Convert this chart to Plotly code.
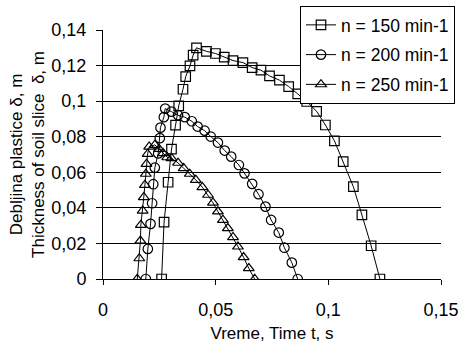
import plotly.graph_objects as go

# n = 150 min-1 (squares)
t150 = [0.0260, 0.0271, 0.0289, 0.0304, 0.0322, 0.0336, 0.0355, 0.0367, 0.0386, 0.0400,
        0.0415, 0.0459, 0.0499, 0.0538, 0.0577, 0.0621, 0.0662, 0.0701, 0.0739, 0.0783,
        0.0824, 0.0864, 0.0904, 0.0948, 0.0987, 0.1027, 0.1066, 0.1111, 0.1149, 0.1190, 0.1229]
d150 = [0.0, 0.032, 0.0544, 0.073, 0.0865, 0.0973, 0.1067, 0.1138, 0.1198, 0.1259,
        0.1300, 0.128, 0.1268, 0.1247, 0.1228, 0.1217, 0.1189, 0.1174, 0.1142, 0.1118,
        0.1082, 0.1041, 0.0998, 0.0943, 0.0866, 0.0777, 0.066, 0.0519, 0.036, 0.0187, 0.0]

# n = 200 min-1 (circles)
t200 = [0.0190, 0.0199, 0.0211, 0.0218, 0.0223, 0.0230, 0.0245, 0.0252, 0.0255, 0.0270,
        0.0276, 0.0304, 0.0333, 0.0363, 0.0394, 0.0420, 0.0451, 0.0478, 0.0510, 0.0540,
        0.0569, 0.0603, 0.0628, 0.0662, 0.0690, 0.0721, 0.0746, 0.0780, 0.0805, 0.0838, 0.0864]
d200 = [0.0, 0.0169, 0.031, 0.0426, 0.0533, 0.0626, 0.0706, 0.0792, 0.0851, 0.091,
        0.0958, 0.0941, 0.0921, 0.091, 0.0887, 0.0857, 0.0834, 0.0801, 0.0767, 0.0722,
        0.0688, 0.0641, 0.0594, 0.0535, 0.0477, 0.0407, 0.0332, 0.0261, 0.0176, 0.0092, 0.0]

# n = 250 min-1 (triangles)
t250 = [0.0152, 0.0161, 0.0166, 0.0168, 0.0176, 0.0181, 0.0186, 0.0190, 0.0193, 0.0198,
        0.0205, 0.0230, 0.0249, 0.0267, 0.0285, 0.0304, 0.0333, 0.0358, 0.0385, 0.0412,
        0.0441, 0.0466, 0.0488, 0.0510, 0.0532, 0.0554, 0.0577, 0.0599, 0.0624, 0.0647, 0.0673]
d250 = [0.0, 0.0116, 0.0215, 0.0304, 0.0384, 0.046, 0.0529, 0.0591, 0.0647, 0.0703,
        0.0744, 0.0754, 0.0731, 0.0707, 0.0684, 0.0679, 0.0653, 0.0623, 0.0591, 0.0557,
        0.0516, 0.0473, 0.0429, 0.0379, 0.0332, 0.0285, 0.0235, 0.0182, 0.0122, 0.006, 0.0]

names = ["n = 150 min-1", "n = 200 min-1", "n = 250 min-1"]
symbols = ["square-open", "circle-open", "triangle-up-open"]

x_ticks = [0, 0.05, 0.1, 0.15]
x_ticktext = ["0", "0,05", "0,1", "0,15"]
y_ticks = [0, 0.02, 0.04, 0.06, 0.08, 0.1, 0.12, 0.14]
y_ticktext = ["0", "0,02", "0,04", "0,06", "0,08", "0,1", "0,12", "0,14"]

FONT = "Liberation Sans, Arial, sans-serif"

fig = go.Figure()
for i, (t, d) in enumerate([(t150, d150), (t200, d200), (t250, d250)]):
    fig.add_trace(go.Scatter(
        x=t, y=d, mode="lines+markers", name=names[i], legendgroup=f"g{i}",
        line=dict(color="black", width=1),
        marker=dict(symbol=symbols[i], size=9.5, color="black", line=dict(width=1.2, color="black")),
    ))

fig.update_layout(
    width=460, height=343,
    margin=dict(l=103, r=19, t=30, b=64, autoexpand=False),
    paper_bgcolor="white", plot_bgcolor="white",
    font=dict(family=FONT, size=17, color="black"),
    showlegend=True,
    legend=dict(
        x=0.5828, y=1.0964, xanchor="left", yanchor="top",
        bgcolor="white", bordercolor="black", borderwidth=1,
        font=dict(family=FONT, size=17.5, color="black"),
        tracegroupgap=4, traceorder="grouped",
    ),
)
fig.update_xaxes(
    range=[0, 0.15], tickvals=x_ticks, ticktext=x_ticktext,
    showgrid=False, zeroline=False, showline=True, linecolor="black", linewidth=1,
    ticks="outside", ticklen=5, tickcolor="black", tickfont=dict(size=18),
    ticklabelstandoff=9,
    title=dict(text="Vreme, Time t, s", font=dict(size=17), standoff=8),
)
fig.update_yaxes(
    range=[0, 0.14], tickvals=y_ticks, ticktext=y_ticktext,
    showgrid=True, gridcolor="black", gridwidth=1, zeroline=False,
    showline=True, linecolor="black", linewidth=1,
    ticks="outside", ticklen=6, tickcolor="black", tickfont=dict(size=18),
    ticklabelstandoff=6,
    title=dict(text="Debljina plastice δ, m<br>Thickness of soil slice  δ, m", font=dict(size=17), standoff=2),
)

fig.write_html("out.html", config={"displayModeBar": False},
               post_script="document.body.style.margin='0';")
